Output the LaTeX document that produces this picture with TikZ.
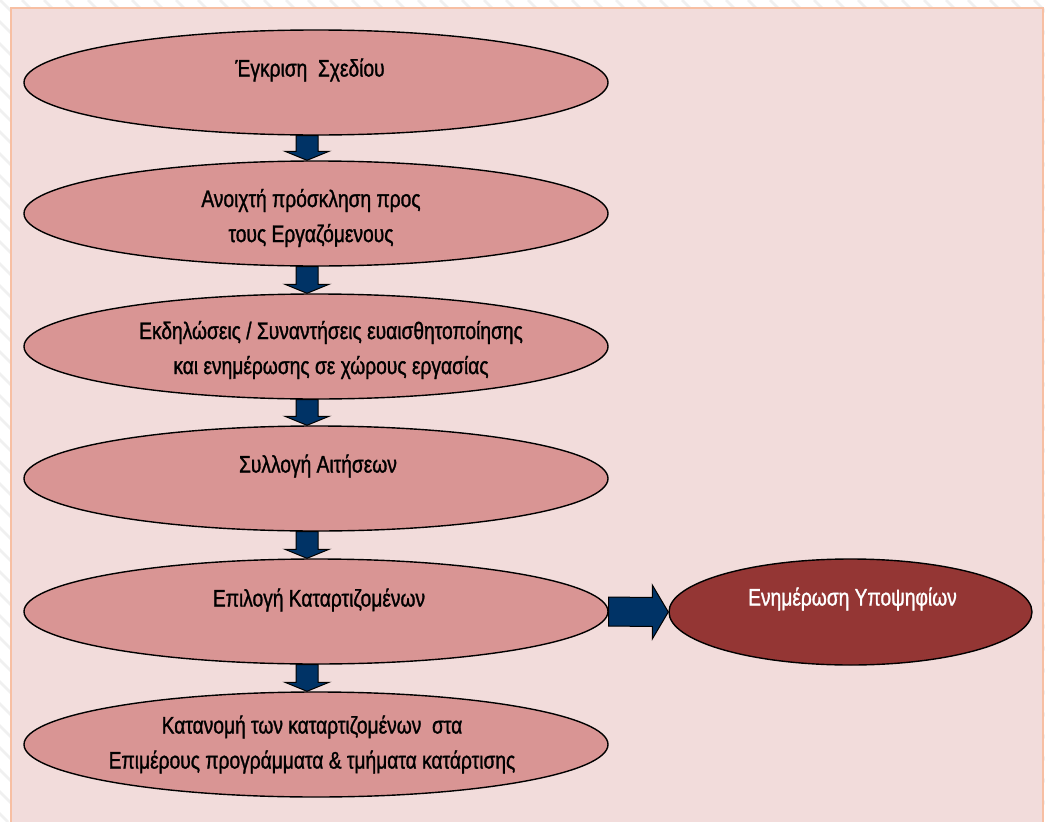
\documentclass[tikz,border=0pt]{standalone}
\usepackage{fontspec}
\setmainfont{Liberation Sans}[FakeStretch=0.8,FakeBold=1.2]
\usetikzlibrary{calc,shapes.geometric}
\definecolor{bgpink}{HTML}{F2DCDB}
\definecolor{framecol}{HTML}{F7BFA3}
\definecolor{stagefill}{HTML}{D99594}
\definecolor{darkred}{HTML}{943634}
\definecolor{navy}{HTML}{003366}
\tikzset{
  stage/.style={ellipse, draw=black, line width=1.4pt, fill=stagefill, minimum width=584pt, minimum height=105pt, inner sep=0pt},
  outcome/.style={ellipse, draw=black, line width=1.4pt, fill=darkred, minimum width=363pt, minimum height=106pt, inner sep=0pt},
  txt/.style={font=\fontsize{24}{35}\selectfont, align=center, inner sep=0pt, text=black},
  wtxt/.style={txt, text=white},
  barrow/.style={draw=black, line width=1pt, fill=navy, line join=miter},
  stripe/.style={draw=black!6, line width=2.5pt}
}
\newcommand\dnarrow[2]{%
  \draw[barrow] ($(#1.south)+(-20,0)$) -- ($(#2.north)+(-20,-9)$) -- ($(#2.north)+(-31,-9)$) -- ($(#2.north)+(-9,0)$) -- ($(#2.north)+(13,-9)$) -- ($(#2.north)+(2,-9)$) -- ($(#1.south)+(2,0)$) -- cycle;}
\begin{document}
\begin{tikzpicture}[x=1pt,y=-1pt]
\useasboundingbox (0,0) rectangle (1045,822);
\begin{scope}
  \clip (0,0) rectangle (1045,822);
  \fill[white] (0,0) rectangle (1045,822);
  \foreach \i in {-40,...,50} \draw[stripe] (\i*22,0) -- ++(822,822);
  \draw[fill=bgpink, draw=framecol, line width=2.5pt] (11,8) rectangle (1043,840);
\end{scope}
\node[stage] (e1) at (316,82.5) {};
\node[stage] (e2) at (316,213.5) {};
\node[stage] (e3) at (316,346.5) {};
\node[stage] (e4) at (316,478.5) {};
\node[stage] (e5) at (316,611.5) {};
\node[stage] (e6) at (316,744.5) {};
\node[outcome] (r) at (850.5,612) {};
\node[txt] (t1) at ([xshift=-6pt,yshift=12.5pt]e1.center) {Έγκριση\ \ Σχεδίου};
\node[txt] (t2) at ([xshift=-5pt,yshift=-4.5pt]e2.center) {Ανοιχτή πρόσκληση προς\\τους Εργαζόμενους};
\node[txt] (t3) at ([xshift=15pt,yshift=-3.5pt]e3.center) {Εκδηλώσεις / Συναντήσεις ευαισθητοποίησης\\και ενημέρωσης σε χώρους εργασίας};
\node[txt] (t4) at ([xshift=2pt,yshift=12.5pt]e4.center) {Συλλογή Αιτήσεων};
\node[txt] (t5) at ([xshift=3pt,yshift=11.5pt]e5.center) {Επιλογή Καταρτιζομένων};
\node[txt] (t6) at ([xshift=-4pt,yshift=0pt]e6.center) {Κατανομή των καταρτιζομένων\ \ στα\\Επιμέρους προγράμματα \& τμήματα κατάρτισης};
\node[wtxt] (t7) at ([xshift=2pt,yshift=13pt]r.center) {Ενημέρωση Υποψηφίων};
\dnarrow{e1}{e2}
\dnarrow{e2}{e3}
\dnarrow{e3}{e4}
\dnarrow{e4}{e5}
\dnarrow{e5}{e6}
\draw[barrow] ($(e5.east)+(0,-14.5)$) -- ($(r.west)+(-16,-14.5)$) -- ($(r.west)+(-16,-27)$) -- (r.west) -- ($(r.west)+(-16,27)$) -- ($(r.west)+(-16,14.5)$) -- ($(e5.east)+(0,14.5)$) -- cycle;
\end{tikzpicture}
\end{document}
